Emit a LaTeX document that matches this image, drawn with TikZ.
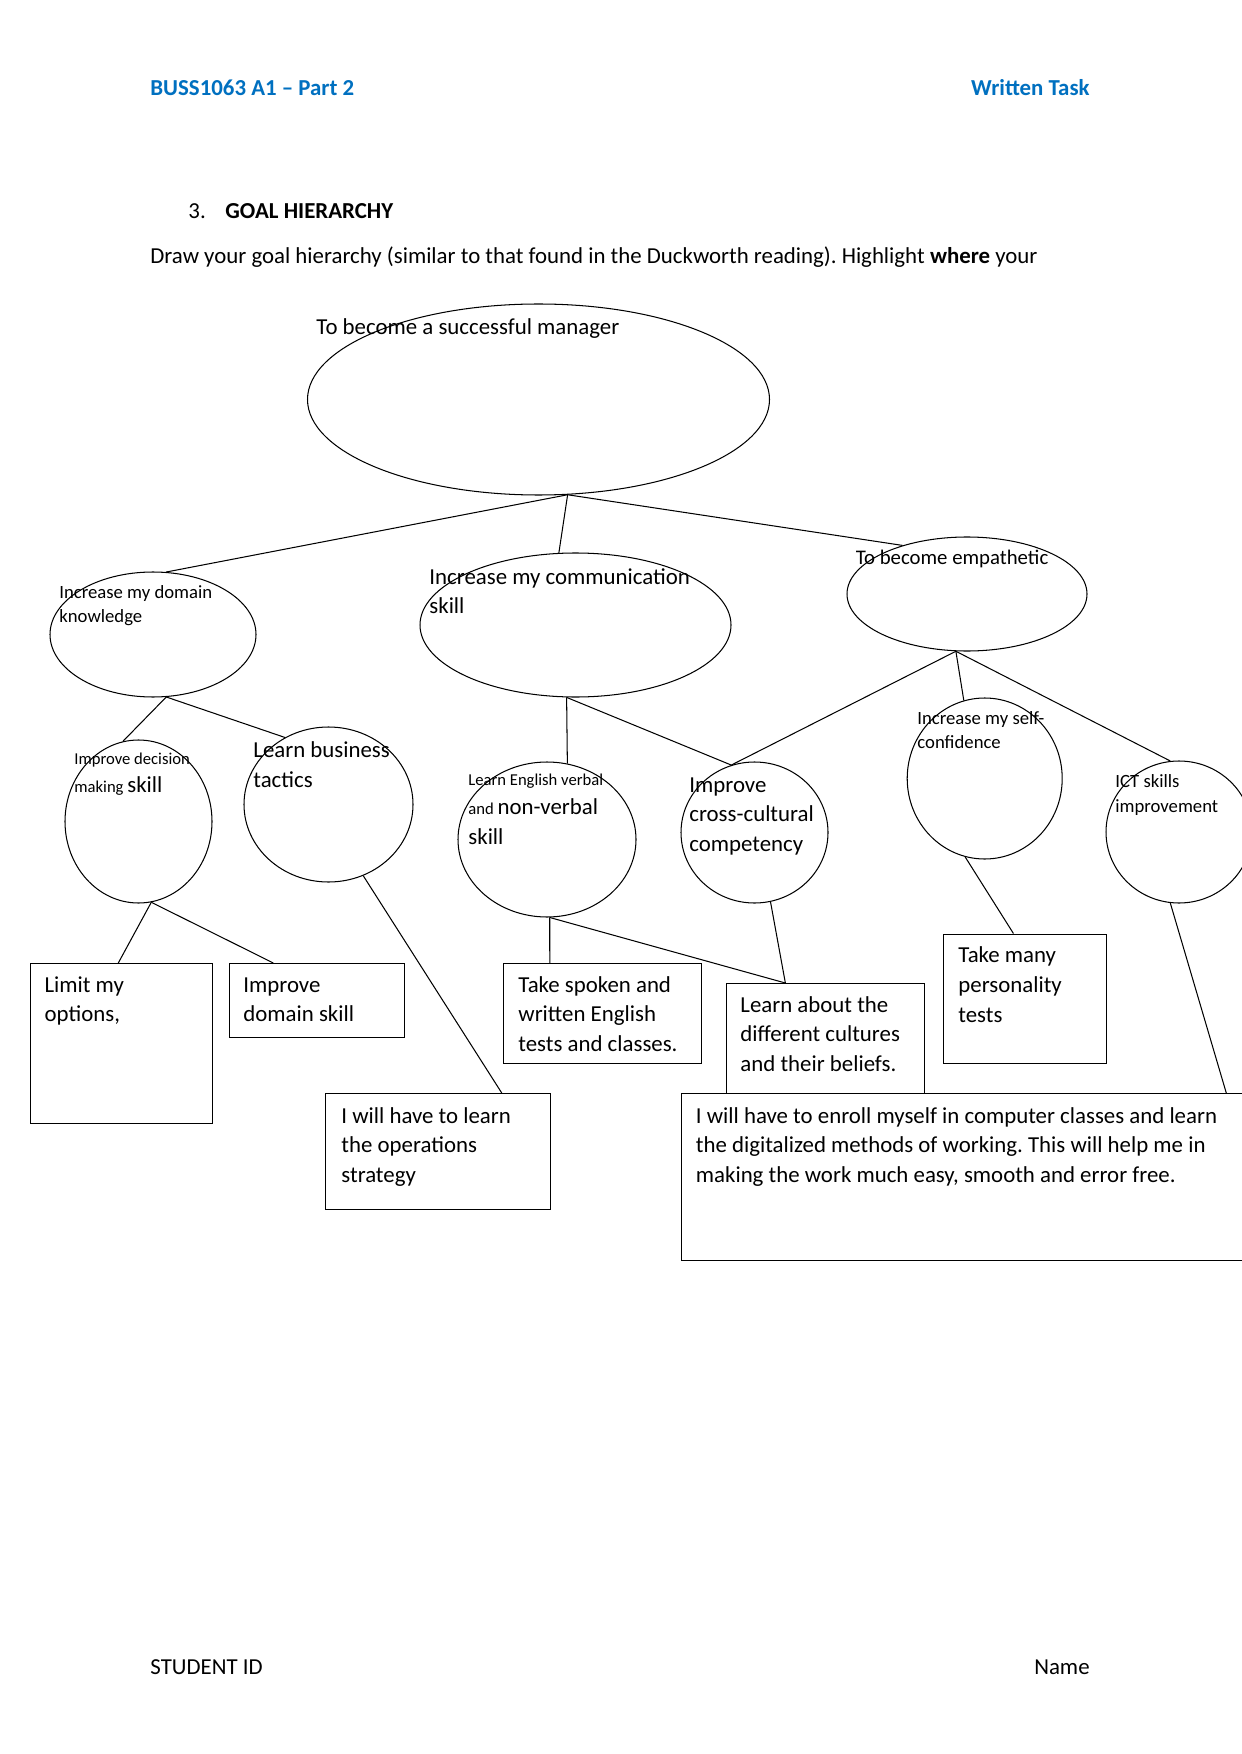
\documentclass[tikz,border=0pt]{standalone}
\usepackage{fontspec}
\setmainfont{Carlito}
\frenchspacing
\usetikzlibrary{shapes.geometric,calc}
\definecolor{hdrblue}{RGB}{0,112,192}
\newdimen\pxu \pxu=0.16922mm
\tikzset{
  goal/.style 2 args={
    draw, ellipse, inner sep=0pt, line width=0.5pt,
    minimum width=#1*\pxu, minimum height=#2*\pxu
  },
  plan/.style 2 args={
    draw, rectangle, anchor=north west, inner sep=0pt, line width=0.5pt,
    minimum width=#1*\pxu, minimum height=#2*\pxu
  },
  txt/.style={anchor=base west, inner sep=0pt, align=flush left, text width=160mm,
    font=\fontsize{11}{14.4}\selectfont},
  small/.style={txt, font=\fontsize{9}{11.5}\selectfont},
  rtxt/.style={anchor=base east, inner sep=0pt, font=\fontsize{11}{14.4}\selectfont},
  link/.style={line width=0.5pt}
}

\begin{document}
\begin{tikzpicture}[x=0.16922mm, y=-0.16922mm]
  \useasboundingbox[fill=white] (0,0) rectangle (1241,1754);

  % page header and task text
  \node[txt, font=\bfseries\fontsize{11}{14.4}\selectfont, text=hdrblue] (hdr) at (150,96) {BUSS1063 A1 -- Part 2};
  \node[rtxt, font=\bfseries\fontsize{11}{14.4}\selectfont, text=hdrblue] (task) at (1090,96) {Written Task};
  \node[txt] (num) at (188,219) {3.};
  \node[txt, font=\bfseries\fontsize{11}{14.4}\selectfont] (ttl) at (225,219) {GOAL HIERARCHY};
  \node[txt] (intro) at (150,264)
    {Draw your goal hierarchy (similar to that found in the Duckworth reading). Highlight \textbf{where} your};

  % goals
  \node[goal={462}{191}] (root) at (538.5,399.5) {};
  \node[txt] (root-t) at (316,335) {To become a successful manager};

  \node[goal={206}{125}] (dom) at (153,634.5) {};
  \node[small] (dom-t) at (59,598.5) {Increase my domain\\knowledge};
  \node[goal={311}{144}] (comm) at (575.5,625) {};
  \node[txt] (comm-t) at (429,584) {Increase my communication\\skill};
  \node[goal={240}{114}] (emp) at (967,594) {};
  \node[txt, font=\fontsize{10}{12}\selectfont] (emp-t) at (855.5,564) {To become empathetic};

  \node[goal={147}{163}] (dec) at (138.5,821.5) {};
  \node[txt, font=\fontsize{8}{13.9}\selectfont] (dec-t) at (74,764)
    {Improve decision\\making {\fontsize{11}{13.9}\selectfont skill}};
  \node[goal={169}{155}] (tac) at (328.5,804.5) {};
  \node[txt, font=\fontsize{11}{14.9}\selectfont] (tac-t) at (253,757) {Learn business\\tactics};
  \node[goal={178}{155}] (eng) at (547,839.5) {};
  \node[txt, font=\fontsize{8}{14.4}\selectfont] (eng-t) at (468,785)
    {Learn English verbal\\and {\fontsize{11}{14.4}\selectfont non-verbal}\\{\fontsize{11}{14.4}\selectfont skill}};
  \node[goal={147}{141}] (cc) at (754.5,832.5) {};
  \node[txt] (cc-t) at (689,792) {Improve\\cross-cultural\\competency};
  \node[goal={155}{161}] (self) at (984.7,778.5) {};
  \node[small] (self-t) at (917,724.5) {Increase my self-\\confidence};
  \node[goal={146}{142}] (ict) at (1179,832) {};
  \node[small, font=\fontsize{9}{12}\selectfont] (ict-t) at (1115,787.5) {ICT skills\\improvement};

  % plans
  \node[plan={182}{160}] (limit) at (29.7,963) {};
  \node[txt] (limit-t) at ($(limit.north west)+(14.5,29)$) {Limit my\\options,};
  \node[plan={175.5}{74}] (impdom) at (228.5,963) {};
  \node[txt] (impdom-t) at ($(impdom.north west)+(14.5,29)$) {Improve\\domain skill};
  \node[plan={225}{116}] (ops) at (325,1093) {};
  \node[txt] (ops-t) at ($(ops.north west)+(16,30)$) {I will have to learn\\the operations\\strategy};
  \node[plan={198}{100}] (spoken) at (503,963) {};
  \node[txt] (spoken-t) at ($(spoken.north west)+(15,29)$) {Take spoken and\\written English\\tests and classes.};
  \node[plan={198.5}{130}] (cult) at (725.5,983) {};
  \node[txt] (cult-t) at ($(cult.north west)+(14.5,29)$) {Learn about the\\different cultures\\and their beliefs.};
  \node[plan={162.6}{129.5}] (pers) at (943.4,933.5) {};
  \node[txt] (pers-t) at ($(pers.north west)+(14.6,29)$) {Take many\\personality\\tests};
  \node[plan={620}{166.6}, fill=white] (big) at (680.5,1093.4) {};
  \node[txt] (big-t) at ($(big.north west)+(15,29.6)$)
    {I will have to enroll myself in computer classes and learn\\the digitalized methods of working. This will help me in\\making the work much easy, smooth and error free.};

  % links
  \draw[link] (root.287) -- (dom.78);
  \draw[link] (root.287) -- (comm.103);
  \draw[link] (root.287) -- (emp.143);
  \draw[link] (dom.282) -- (dec.101);
  \draw[link] (dom.282) -- (tac.123);
  \draw[link] (comm.263) -- (eng.75);
  \draw[link] (comm.263) -- (cc.109);
  \draw[link] (emp.259) -- (cc.109);
  \draw[link] (emp.259) -- (self.105);
  \draw[link] (emp.259) -- (ict.97);
  \draw[link] (dec.279) -- ($(limit.north west)!0.484!(limit.north east)$);
  \draw[link] (dec.279) -- ($(impdom.north west)!0.254!(impdom.north east)$);
  \draw[link] (tac.296) -- ($(ops.north west)!0.782!(ops.north east)$);
  \draw[link] (eng.272) -- ($(spoken.north west)!0.235!(spoken.north east)$);
  \draw[link] (eng.272) -- ($(cult.north west)!0.30!(cult.north east)$);
  \draw[link] (cc.283) -- ($(cult.north west)!0.30!(cult.north east)$);
  \draw[link] (self.256) -- ($(pers.north west)!0.428!(pers.north east)$);
  \draw[link] (ict.263) -- ($(big.north west)!0.879!(big.north east)$);

  % footer
  \node[txt] (sid) at (150,1674) {STUDENT ID};
  \node[rtxt] (name) at (1090,1674) {Name};
\end{tikzpicture}
\end{document}
